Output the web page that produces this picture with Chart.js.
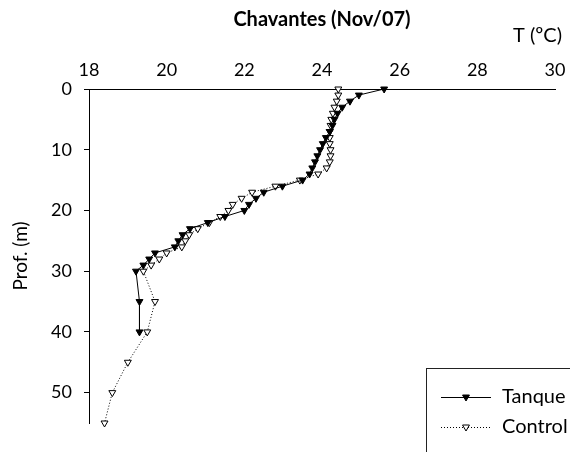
<!DOCTYPE html>
<html>
<head>
<meta charset="utf-8">
<script src="https://cdn.jsdelivr.net/npm/chart.js@4/dist/chart.umd.min.js"></script>
<style>
  html, body { margin: 0; padding: 0; background: #fff; }
  #wrap { width: 570px; height: 452px; }
</style>
</head>
<body>
<div id="wrap"><canvas id="profile" width="570" height="452"></canvas></div>
<script>
// temperature profile, depth in m / temperature in ºC
const TANQUE_DEPTH = [0, 1, 2, 3, 4, 5, 6, 7, 8, 9, 10, 11, 12, 13, 14, 15, 16, 17, 18, 19, 20,
  21, 22, 23, 24, 25, 26, 27, 28, 29, 30, 35, 40];
const TANQUE_TEMP = [25.6, 24.95, 24.72, 24.52, 24.4, 24.32, 24.27, 24.2, 24.1, 24.02, 23.95,
  23.88, 23.82, 23.75, 23.68, 23.5, 22.98, 22.5, 22.3, 22.12, 22.0,
  21.5, 21.06, 20.6, 20.41, 20.3, 20.21, 19.7, 19.55, 19.4, 19.21, 19.3, 19.3];

const CONTROL_DEPTH = [0, 1, 2, 3, 4, 5, 6, 7, 8, 9, 10, 11, 12, 13, 14, 15, 16, 17, 18, 19, 20,
  21, 22, 23, 24, 25, 26, 27, 28, 29, 30, 35, 40, 45, 50, 55];
const CONTROL_TEMP = [24.42, 24.42, 24.38, 24.32, 24.28, 24.24, 24.22, 24.2, 24.2, 24.2, 24.22,
  24.22, 24.2, 24.12, 23.9, 23.43, 22.8, 22.2, 21.93, 21.7, 21.59,
  21.38, 21.1, 20.8, 20.58, 20.48, 20.39, 20.0, 19.81, 19.6, 19.4, 19.7, 19.5, 19.0, 18.6, 18.4];

const SERIES_NAMES = ["Tanque", "Control"];
const X_TICKS = [18, 20, 22, 24, 26, 28, 30];
const Y_TICKS = [0, 10, 20, 30, 40, 50];

const FONT = "Lato, 'Open Sans', sans-serif";

function pairs(depths, temps) {
  return depths.map((d, i) => ({ x: temps[i], y: d }));
}

function triangle(ctx, x, y) {
  Chart.helpers.drawPoint(ctx, { pointStyle: "triangle", rotation: 180, radius: 4, borderWidth: 1 }, x, y);
}

// title, unit label and the boxed key in the lower right
const extras = {
  id: "extras",
  afterDraw(chart) {
    const ctx = chart.ctx;
    ctx.save();
    ctx.fillStyle = "#000";
    ctx.textBaseline = "middle";
    ctx.textAlign = "center";
    ctx.font = "bold 20px " + FONT;
    ctx.fillText("Chavantes (Nov/07)", 322, 20);
    ctx.textAlign = "left";
    ctx.font = "20px " + FONT;
    ctx.fillText("T (ºC)", 513, 36);

    ctx.strokeStyle = "#222";
    ctx.lineWidth = 1;
    ctx.strokeRect(426.5, 368.5, 200, 120);

    const rows = [
      { y: 397, ds: chart.data.datasets[0] },
      { y: 427, ds: chart.data.datasets[1] },
    ];
    rows.forEach((r) => {
      ctx.save();
      ctx.strokeStyle = "#000";
      ctx.setLineDash(r.ds.borderDash || []);
      ctx.beginPath();
      ctx.moveTo(441, r.y + 0.5);
      ctx.lineTo(491, r.y + 0.5);
      ctx.stroke();
      ctx.setLineDash([]);
      ctx.fillStyle = r.ds.pointBackgroundColor;
      ctx.strokeStyle = "#000";
      triangle(ctx, 466, r.y);
      ctx.restore();
      ctx.fillText(r.ds.label, 502, r.y);
    });
    ctx.restore();
  },
};

new Chart(document.getElementById("profile"), {
  type: "scatter",
  data: {
    datasets: [
      {
        label: SERIES_NAMES[0],
        data: pairs(TANQUE_DEPTH, TANQUE_TEMP),
        showLine: true,
        borderColor: "#000",
        borderWidth: 1,
        pointStyle: "triangle",
        rotation: 180,
        pointRadius: 4,
        pointBackgroundColor: "#000",
        pointBorderColor: "#000",
        pointBorderWidth: 1,
        clip: false,
      },
      {
        label: SERIES_NAMES[1],
        data: pairs(CONTROL_DEPTH, CONTROL_TEMP),
        showLine: true,
        borderColor: "#000",
        borderWidth: 1,
        borderDash: [1, 2],
        pointStyle: "triangle",
        rotation: 180,
        pointRadius: 4,
        pointBackgroundColor: "#fff",
        pointBorderColor: "#000",
        pointBorderWidth: 1,
        clip: false,
      },
    ],
  },
  options: {
    responsive: false,
    animation: false,
    devicePixelRatio: 1,
    layout: { padding: { left: 0, top: 0, right: 15, bottom: 29 } },
    plugins: {
      legend: { display: false },
      tooltip: { enabled: false },
    },
    scales: {
      x: {
        type: "linear",
        position: "top",
        min: 18,
        max: 30,
        afterBuildTicks: (s) => { s.ticks = X_TICKS.map((v) => ({ value: v })); },
        afterFit: (s) => { s.height = 89; },
        grid: { display: false },
        border: { display: true, color: "#000", width: 1 },
        ticks: { color: "#000", padding: 0, font: { family: FONT, size: 18 } },
      },
      y: {
        type: "linear",
        reverse: true,
        min: 0,
        max: 55,
        afterBuildTicks: (s) => { s.ticks = Y_TICKS.map((v) => ({ value: v })); },
        afterFit: (s) => { s.width = 89; },
        grid: { display: true, drawOnChartArea: false, drawTicks: true, tickLength: 5, color: "#000" },
        border: { display: true, color: "#000", width: 1 },
        ticks: { color: "#000", padding: 12, font: { family: FONT, size: 18 } },
        title: {
          display: true,
          text: "Prof. (m)",
          color: "#000",
          padding: { top: 9, bottom: 0 },
          font: { family: FONT, size: 19 },
        },
      },
    },
  },
  plugins: [extras],
});
</script>
</body>
</html>
